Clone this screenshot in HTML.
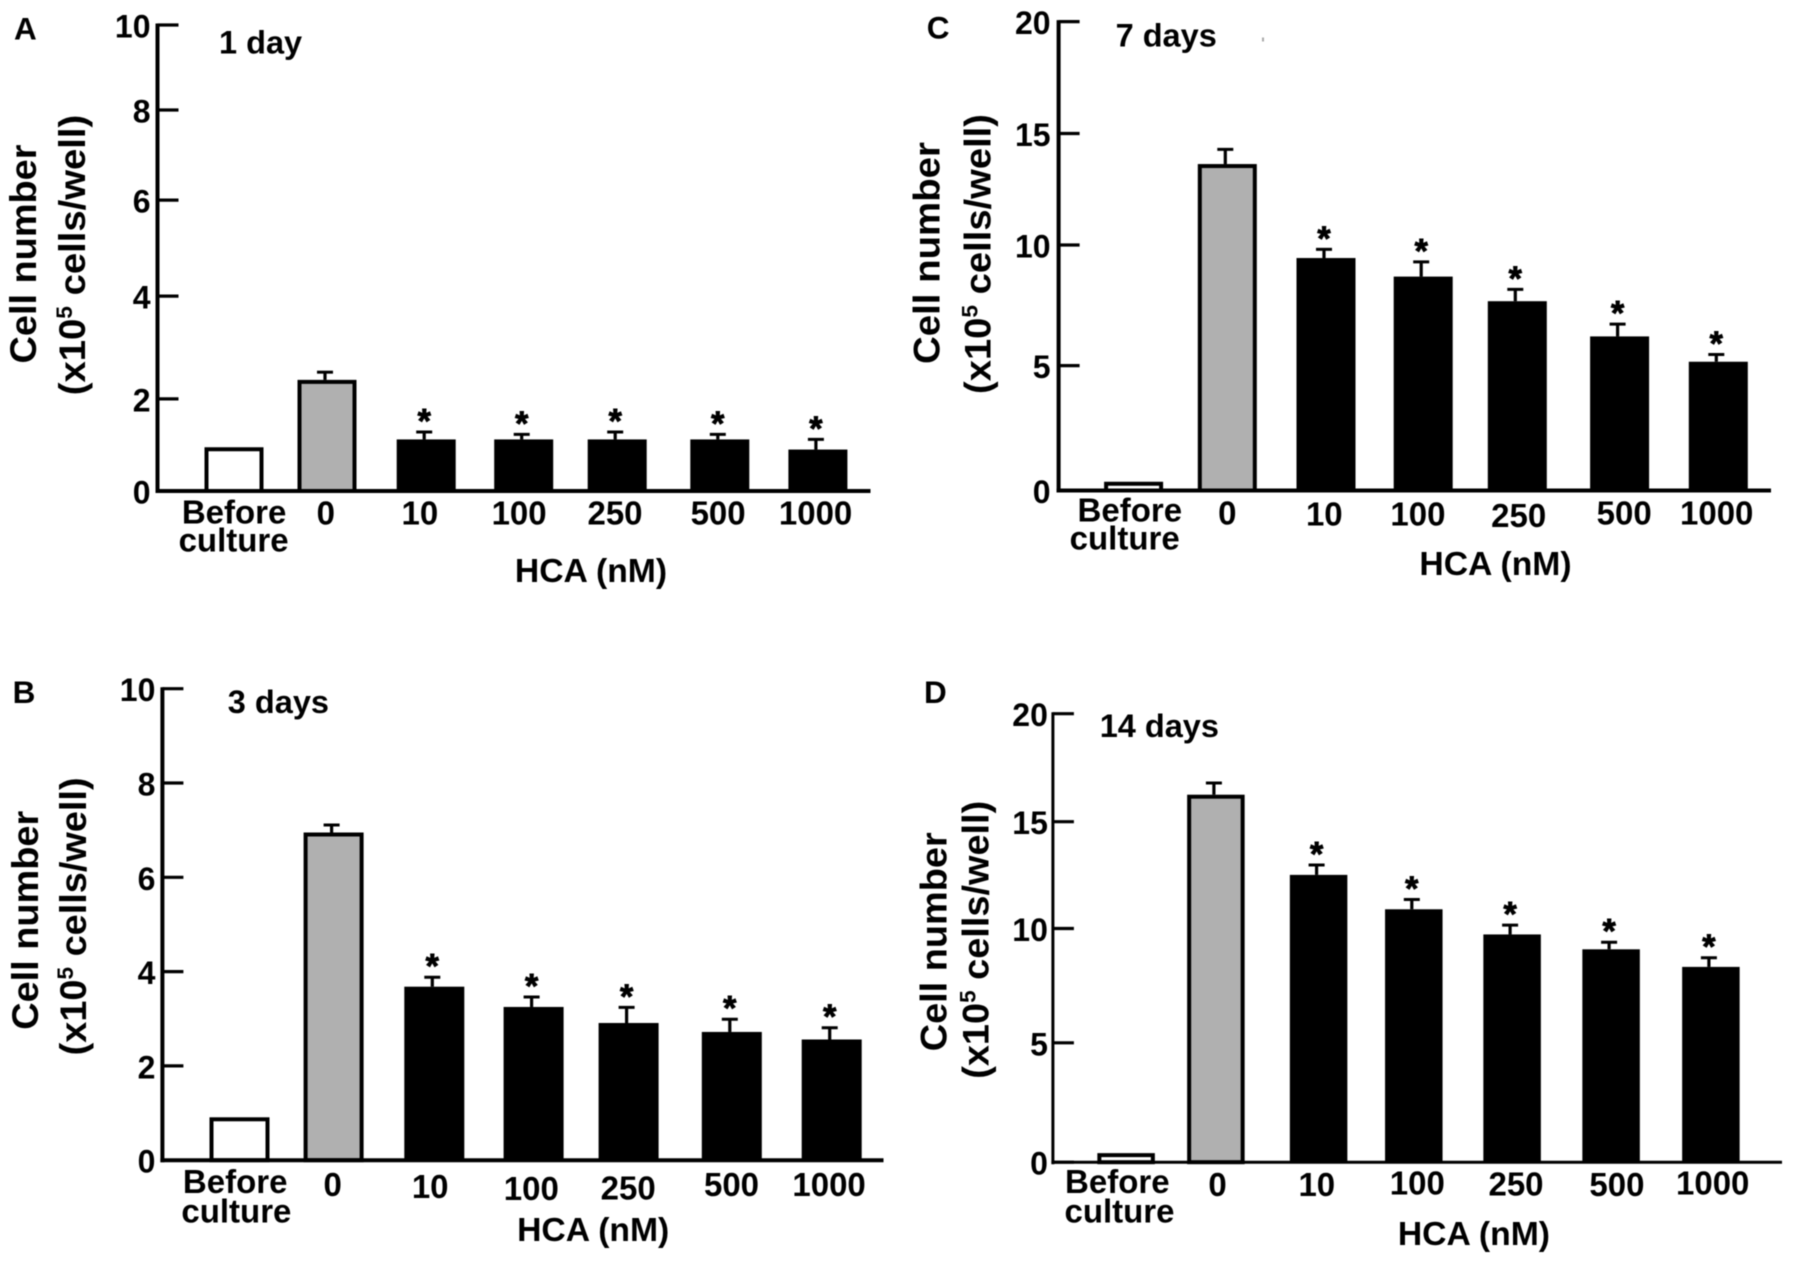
<!DOCTYPE html>
<html lang="en">
<head>
<meta charset="utf-8">
<title>Cell number after HCA treatment</title>
<style>
html,body{margin:0;padding:0;background:#fff;}
#figure{display:block;width:1795px;height:1274px;background:#fff;filter:blur(0.4px);}
#figure text{font-family:"Liberation Sans",Arial,sans-serif;font-weight:700;fill:#000;}
</style>
</head>
<body>
<svg id="figure" xmlns="http://www.w3.org/2000/svg" width="1795" height="1274" viewBox="0 0 1795 1274"></svg>
<script>
// ---- chart data ----
const categories = ["Before culture", "0", "10", "100", "250", "500", "1000"];
const significant = [false, false, true, true, true, true, true];

const tickLabelsA = [0, 2, 4, 6, 8, 10];
const valuesA = [0.95, 2.37, 1.12, 1.12, 1.12, 1.12, 0.90];
const errorsA = [0, 0.15, 0.16, 0.11, 0.16, 0.11, 0.22];

const tickLabelsB = [0, 2, 4, 6, 8, 10];
const valuesB = [0.91, 6.95, 3.68, 3.25, 2.91, 2.72, 2.56];
const errorsB = [0, 0.16, 0.20, 0.21, 0.33, 0.27, 0.25];

const tickLabelsC = [0, 5, 10, 15, 20];
const valuesC = [0.35, 13.63, 9.46, 8.69, 7.67, 6.21, 5.16];
const errorsC = [0, 0.66, 0.36, 0.61, 0.49, 0.51, 0.30];

const tickLabelsD = [0, 5, 10, 15, 20];
const valuesD = [0.38, 16.25, 12.51, 10.90, 9.74, 9.09, 8.32];
const errorsD = [0, 0.54, 0.46, 0.46, 0.42, 0.31, 0.40];

// ---- panel geometry (axis calibration and label placement only) ----
const panels = [
  { id: "a", letter: "A", letterX: 14, letterY: 39.5, title: "1 day", titleX: 219, titleY: 53.4,
    ticks: tickLabelsA, values: valuesA, errors: errorsA,
    axisX: 157.5, axisRight: 870.5, y0: 491, tickGaps: [92.1, 102.8, 96, 90.1, 85],
    bandStart: 230.6, bandStep: 97.5, bandNudge: [3.4, -1.1, 0.6, 0.6, -3.4, 1.7, 2.3], barWidth: 59, axisWidth: 4, tickLabelGap: 7,
    labelDx: [3.5, -2.3, -5.7, -4, -5.6, 0, 0], labelDy: [32.5, 33.5, 33.5, 33.5, 33.5, 33.5, 33.5],
    cultureDx: 3, cultureDy: 60.4,
    yTitle1: { x: 36, y: 254, len: 219 }, yTitle2: { x: 85, y: 255, len: 280.6 },
    xTitle: { x: 591, y: 582 } },
  { id: "b", letter: "B", letterX: 12.6, letterY: 703, title: "3 days", titleX: 227.8, titleY: 712.8,
    ticks: tickLabelsB, values: valuesB, errors: errorsB,
    axisX: 162.4, axisRight: 883.5, y0: 1160.2, tickGaps: [94.3, 94.3, 94.3, 94.3, 94.3],
    bandStart: 237.2, bandStep: 98.7, bandNudge: [2.3, -2.3, -0.3, 0.3, -3.4, 1.1, 2.3], barWidth: 60, axisWidth: 4, tickLabelGap: 7,
    labelDx: [-2, -3.2, -4.4, -2, -3.8, 0.8, -0.3], labelDy: [32.9, 36, 38, 39.9, 39.1, 36, 36],
    cultureDx: -0.8, cultureDy: 62.2,
    yTitle1: { x: 38, y: 920.3, len: 219 }, yTitle2: { x: 86, y: 916.4, len: 277.9 },
    xTitle: { x: 593.2, y: 1241.2 } },
  { id: "c", letter: "C", letterX: 926.8, letterY: 38.7, title: "7 days", titleX: 1115.6, titleY: 46.6,
    ticks: tickLabelsC, values: valuesC, errors: errorsC,
    axisX: 1058.6, axisRight: 1771, y0: 490.5, tickGaps: [124.9, 120.6, 111.5, 111.9],
    bandStart: 1131.1, bandStep: 97.5, bandNudge: [2.5, -1.3, -0.1, -0.4, -3.8, 1, 2.2], barWidth: 59, axisWidth: 4, tickLabelGap: 8,
    labelDx: [-1.3, -1.3, -1.8, -5.7, -2.4, 5.6, 0.6], labelDy: [31.2, 34, 35.2, 35.2, 36.4, 34, 34],
    cultureDx: -6.4, cultureDy: 58.9,
    yTitle1: { x: 939.5, y: 253, len: 222 }, yTitle2: { x: 990.5, y: 254, len: 280 },
    xTitle: { x: 1495.5, y: 575 } },
  { id: "d", letter: "D", letterX: 924, letterY: 703, title: "14 days", titleX: 1099.7, titleY: 737.1,
    ticks: tickLabelsD, values: valuesD, errors: errorsD,
    axisX: 1052.9, axisRight: 1782, y0: 1162.2, tickGaps: [119.4, 114.3, 106.8, 108],
    bandStart: 1123, bandStep: 97.5, bandNudge: [3.1, -4.6, 0.6, -1.7, -0.9, 0.6, 2.9], barWidth: 57.5, axisWidth: 3, tickLabelGap: 5,
    labelDx: [-5.7, -2.9, -1.2, 1.8, 3, 6.4, 4.7], labelDy: [30.8, 34, 34, 32.1, 33.2, 34, 32.1],
    cultureDx: -3.5, cultureDy: 60.2,
    yTitle1: { x: 946.5, y: 941.8, len: 219 }, yTitle2: { x: 988.4, y: 939.8, len: 278 },
    xTitle: { x: 1473.9, y: 1245.1 } }
];

const SVG_NS = "http://www.w3.org/2000/svg";
const figure = document.getElementById("figure");

function make(tag, attrs, parent, text) {
  const node = document.createElementNS(SVG_NS, tag);
  for (const key in attrs) node.setAttribute(key, attrs[key]);
  if (text !== undefined) node.textContent = text;
  parent.appendChild(node);
  return node;
}

// Piecewise axis: the printed tick spacing of the source figure is not uniform.
function makeYScale(panel) {
  const ticks = panel.ticks;
  const gaps = panel.tickGaps;
  return function (v) {
    let y = panel.y0;
    for (let i = 0; i < gaps.length; i++) {
      const lo = ticks[i];
      const hi = ticks[i + 1];
      if (v <= hi || i === gaps.length - 1) {
        return y - (v - lo) / (hi - lo) * gaps[i];
      }
      y -= gaps[i];
    }
    return y;
  };
}

// Category position; the bars in the source sit slightly off a regular grid.
function makeXScale(panel) {
  return function (i) {
    return panel.bandStart + i * panel.bandStep + panel.bandNudge[i];
  };
}

function slug(label) {
  return label.toLowerCase().replace(/\s+/g, "-");
}

function drawPanel(panel) {
  const yScale = makeYScale(panel);
  const xScale = makeXScale(panel);
  const topTick = panel.ticks[panel.ticks.length - 1];

  const group = make("g", {}, figure);
  
  

  const letter = make("text", { x: panel.letterX, y: panel.letterY, "font-size": 31.5 }, group, panel.letter);
  
  

  const title = make("text", { x: panel.titleX, y: panel.titleY, "font-size": 32.5 }, group, panel.title);
  
  

  // bars, error bars and significance stars
  categories.forEach(function (category, i) {
    const value = panel.values[i];
    const error = panel.errors[i];
    const cx = xScale(i);
    const labelBase = panel.bandStart + i * panel.bandStep;
    const top = yScale(value);
    const w = panel.barWidth;
    const name = slug(category);
    const hollow = i < 2;
    const inset = hollow ? 2 : 0;
    const fill = i === 0 ? "#ffffff" : (i === 1 ? "#b0b0b0" : "#000000");

    if (error > 0) {
      const capY = yScale(value + error);
      const errX = cx - 2;
      const stem = make("line", { x1: errX, x2: errX, y1: top, y2: capY, stroke: "#000", "stroke-width": 3.2 }, group);
      
      
      const cap = make("line", { x1: errX - 8, x2: errX + 8, y1: capY, y2: capY, stroke: "#000", "stroke-width": 3 }, group);
      
      
      if (significant[i]) {
        const starSize = 34;
        const star = make("text", {
          x: errX,
          y: capY - 15.5 + 0.47 * starSize,
          "font-size": starSize,
          "text-anchor": "middle",
          stroke: "#000",
          "stroke-width": 0.9
        }, group, "*");
        
        
      }
    }

    const bar = make("rect", {
      x: cx - w / 2 + inset,
      y: top + inset,
      width: w - 2 * inset,
      height: Math.max(0, panel.y0 - top - inset),
      fill: fill,
      stroke: hollow ? "#000" : "none",
      "stroke-width": hollow ? 4 : 0
    }, group);
    
    

    // category labels
    if (category.indexOf(" ") > -1) {
      const parts = category.split(" ");
      const first = make("text", { x: labelBase + panel.labelDx[i], y: panel.y0 + panel.labelDy[i], "font-size": 33, "text-anchor": "middle" }, group, parts[0]);
      
      
      const second = make("text", { x: labelBase + panel.cultureDx, y: panel.y0 + panel.cultureDy, "font-size": 33, "text-anchor": "middle" }, group, parts[1]);
      
      
    } else {
      const label = make("text", { x: labelBase + panel.labelDx[i], y: panel.y0 + panel.labelDy[i], "font-size": 33, "text-anchor": "middle" }, group, category);
      
      
    }
  });

  // y axis
  const yAxis = make("line", {
    x1: panel.axisX, x2: panel.axisX, y1: yScale(topTick) - 1.5, y2: panel.y0 + 2,
    stroke: "#000", "stroke-width": panel.axisWidth
  }, group);
  
  

  panel.ticks.forEach(function (tick) {
    const y = yScale(tick);
    const mark = make("line", { x1: panel.axisX, x2: panel.axisX + 21, y1: y, y2: y, stroke: "#000", "stroke-width": 3.2 }, group);
    
    
    const label = make("text", { x: panel.axisX - panel.tickLabelGap, y: y + 12.5, "font-size": 32, "text-anchor": "end" }, group, String(tick));
    
    
  });

  // x axis
  const xAxis = make("line", {
    x1: panel.axisX - panel.axisWidth / 2, x2: panel.axisRight, y1: panel.y0, y2: panel.y0,
    stroke: "#000", "stroke-width": panel.axisWidth
  }, group);
  
  

  const xTitle = make("text", { x: panel.xTitle.x, y: panel.xTitle.y, "font-size": 33.7, "text-anchor": "middle" }, group, "HCA (nM)");
  
  

  // y axis titles
  const t1 = panel.yTitle1;
  const yTitleTop = make("text", {
    transform: "translate(" + t1.x + "," + t1.y + ") rotate(-90)",
    "font-size": 37.5, "text-anchor": "middle", textLength: t1.len, lengthAdjust: "spacingAndGlyphs"
  }, group, "Cell number");
  
  

  const t2 = panel.yTitle2;
  const yTitleUnit = make("text", {
    transform: "translate(" + t2.x + "," + t2.y + ") rotate(-90)",
    "font-size": 37, "text-anchor": "middle", textLength: t2.len, lengthAdjust: "spacingAndGlyphs"
  }, group, "(x10");
  
  
  make("tspan", { dy: -13, "font-size": 22 }, yTitleUnit, "5");
  make("tspan", { dy: 13 }, yTitleUnit, "\u00a0cells/well)");
}

panels.forEach(drawPanel);

const speck = make("rect", { x: 1262, y: 37.5, width: 2, height: 4, fill: "#aaaaaa" }, figure);


</script>
</body>
</html>
